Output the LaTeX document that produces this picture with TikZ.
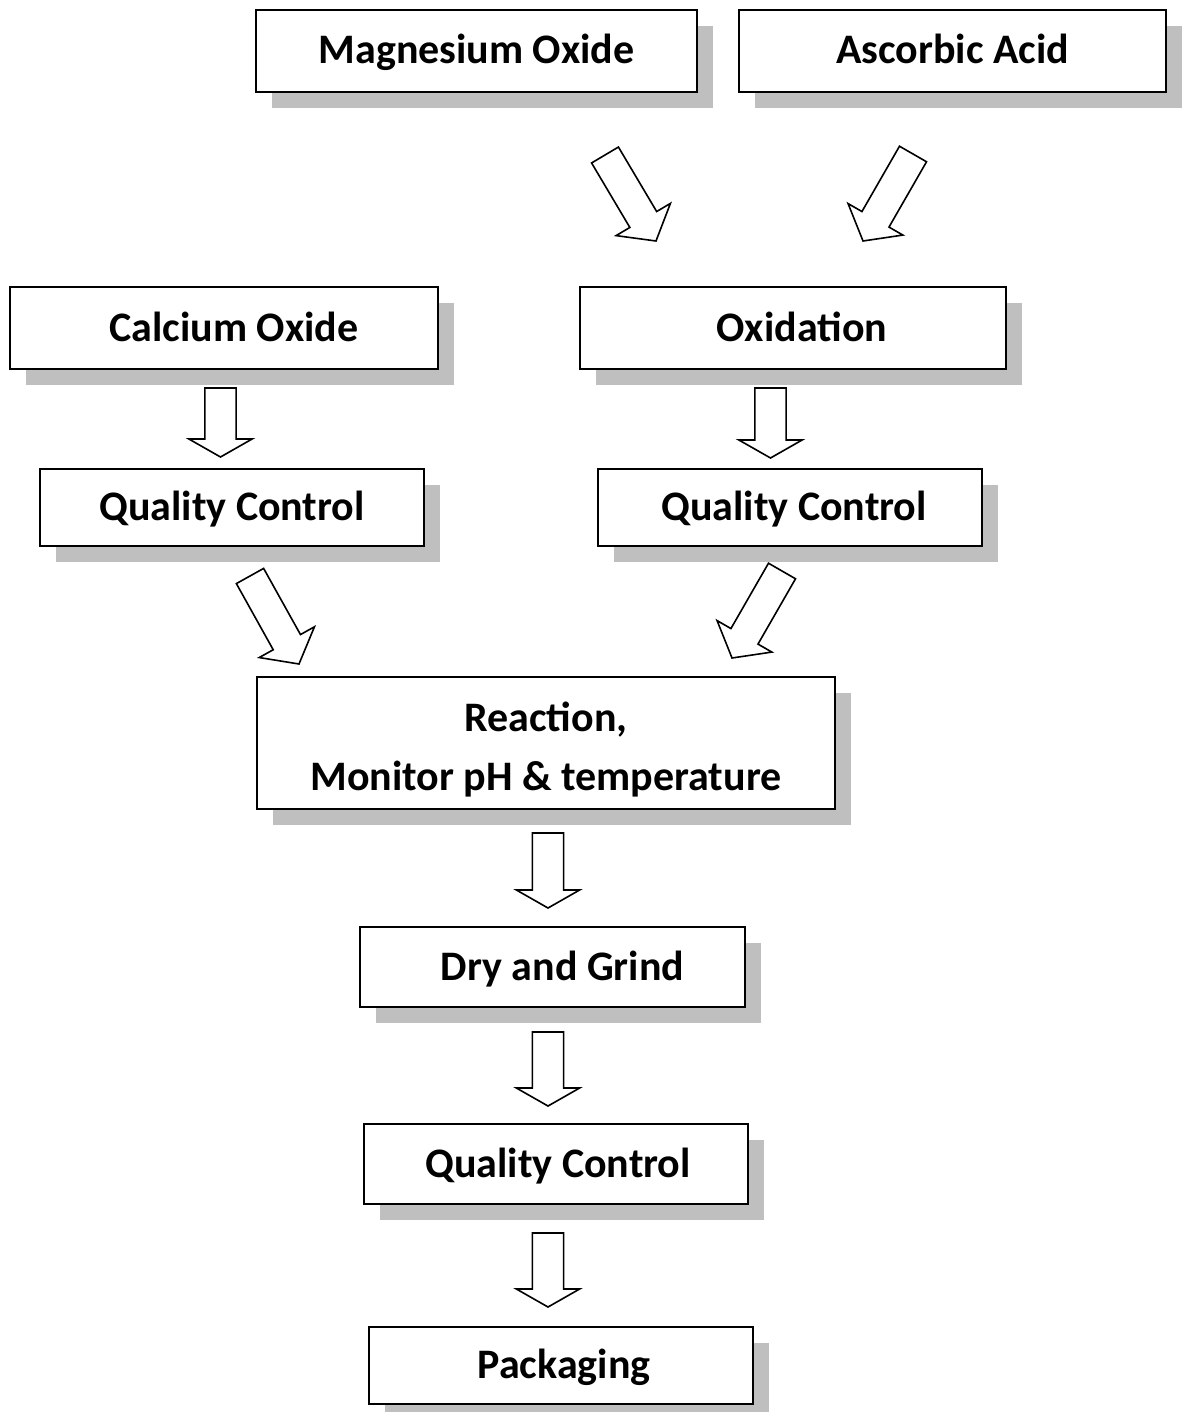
\documentclass[tikz,border=0pt]{standalone}
\usepackage{fontspec}
\setmainfont{Carlito}
\usepackage{tikz}
\usetikzlibrary{shadows, calc}
\tikzstyle{process} = [rectangle, inner sep=0pt, align=center, draw=black, line width=1pt, fill=white, text height=16.5pt, text depth=3.5pt, font=\bfseries\fontsize{21}{29.5}\selectfont, drop shadow={shadow xshift=8pt, shadow yshift=-8pt, fill=black!25, opacity=1}]
\tikzstyle{hollow} = [draw=black, line width=0.8pt, fill=white, line join=miter]
% hollow block arrow: [head length]{tail}{tip}
\newcommand{\blockarrow}[3][9pt]{%
  \coordinate (hb) at ($(#3)!#1!(#2)$);
  \draw [hollow] ($(#2)!7.8pt!90:(#3)$) -- ($(hb)!7.8pt!90:(#3)$) -- ($(hb)!15.8pt!90:(#3)$)
    -- (#3) -- ($(hb)!15.8pt!-90:(#3)$) -- ($(hb)!7.8pt!-90:(#3)$) -- ($(#2)!7.8pt!-90:(#3)$) -- cycle;
}

\begin{document}
\begin{tikzpicture}[x=0.5pt, y=-0.5pt]
\useasboundingbox (0,0) rectangle (1184,1412);

\node (mgo) [process, minimum width=220.5pt, minimum height=41pt] at (476.5,51) {Magnesium Oxide};
\node (acid) [process, minimum width=213.5pt, minimum height=41pt] at (952.5,51) {Ascorbic Acid};
\node (cao) [process, minimum width=214pt, minimum height=41pt] at (224,328) {\hspace{10pt}Calcium Oxide};
\node (oxid) [process, minimum width=213pt, minimum height=41pt] at (793,328) {\hspace{9pt}Oxidation};
\node (qc_left) [process, minimum width=192pt, minimum height=38.5pt] at (232,507.5) {Quality Control};
\node (qc_right) [process, minimum width=192pt, minimum height=38.5pt] at (790,507.5) {\hspace{4pt}Quality Control};
\node (react) [process, text height={}, text depth={}, minimum width=289pt, minimum height=66pt] at (546,743) {\rule{0pt}{21pt}Reaction,\\Monitor pH \& temperature};
\node (dry) [process, minimum width=192.5pt, minimum height=40pt] at (552.5,967) {\hspace{10pt}Dry and Grind};
\node (qc_final) [process, minimum width=192pt, minimum height=40pt] at (556,1164) {\hspace{2pt}Quality Control};
\node (pack) [process, minimum width=192pt, minimum height=38.5pt] at (561,1365.5) {\hspace{3pt}Packaging};

\coordinate (mgo_out) at (605,155);
\coordinate (acid_out) at (913,154);
\coordinate (oxid_in_a) at (656,241);
\coordinate (oxid_in_b) at (863,241);
\coordinate (cao_out) at (220.5,388);
\coordinate (qc_left_in) at (220.5,457);
\coordinate (oxid_out) at (770.5,388);
\coordinate (qc_right_in) at (770.5,458);
\coordinate (qc_left_out) at (250,576);
\coordinate (qc_right_out) at (782,571);
\coordinate (react_in_a) at (299,664);
\coordinate (react_in_b) at (732,658);
\coordinate (react_out) at (548,833);
\coordinate (dry_in) at (548,908);
\coordinate (dry_out) at (548,1032);
\coordinate (qc_final_in) at (548,1106);
\coordinate (qc_final_out) at (548,1233);
\coordinate (pack_in) at (548,1307);

\blockarrow[12.5pt]{mgo_out}{oxid_in_a}
\blockarrow[12.5pt]{acid_out}{oxid_in_b}
\blockarrow{cao_out}{qc_left_in}
\blockarrow{oxid_out}{qc_right_in}
\blockarrow[12.5pt]{qc_left_out}{react_in_a}
\blockarrow[12.5pt]{qc_right_out}{react_in_b}
\blockarrow{react_out}{dry_in}
\blockarrow{dry_out}{qc_final_in}
\blockarrow{qc_final_out}{pack_in}

\end{tikzpicture}
\end{document}
